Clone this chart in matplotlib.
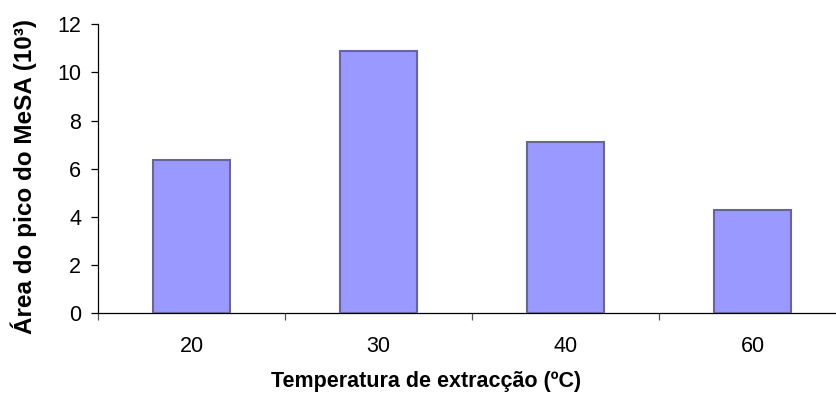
import numpy as np
import matplotlib
matplotlib.use("Agg")
import matplotlib.pyplot as plt

categories = ["20", "30", "40", "60"]
values = [6.35, 10.9, 7.1, 4.27]

plt.rcParams['font.family'] = ['Liberation Sans', 'DejaVu Sans']

fig = plt.figure(figsize=(8.37, 4.01), dpi=100)
ax = fig.add_axes([98 / 837, 87.7 / 401, 748 / 837, 289 / 401])

x = np.arange(len(categories))
ax.bar(x, values, width=0.41, color='#9999ff', edgecolor='#666699', linewidth=1.5, zorder=3)

ax.set_xlim(-0.5, len(categories) - 0.5)
ax.set_ylim(0, 12)
ax.set_yticks(np.arange(0, 13, 2))
ax.set_xticks(x)
ax.set_xticklabels(categories)
ax.set_xticks(np.arange(-0.5, len(categories), 1), minor=True)

ax.spines['top'].set_visible(False)
ax.spines['right'].set_visible(False)
ax.spines['left'].set_linewidth(0.9)
ax.spines['bottom'].set_linewidth(0.9)

ax.tick_params(axis='x', which='major', length=0, pad=16, labelsize=15.5)
ax.tick_params(axis='x', which='minor', length=5, width=0.9, color='#555555')
ax.tick_params(axis='y', length=5, width=0.9, pad=7, labelsize=15.5)

ax.set_xlabel('Temperatura de extracção (ºC)', fontsize=15.5, fontweight='bold')
ax.xaxis.set_label_coords((426 - 98) / 748, (313.3 - 381.7) / 289)
ax.xaxis.label.set_verticalalignment('center')

fig.text(24 / 837, 1 - 177 / 401, 'Área do pico do MeSA (10³)', rotation=90,
         ha='center', va='center', fontsize=17.5, fontweight='bold')

fig.savefig('out.png', dpi=100)
